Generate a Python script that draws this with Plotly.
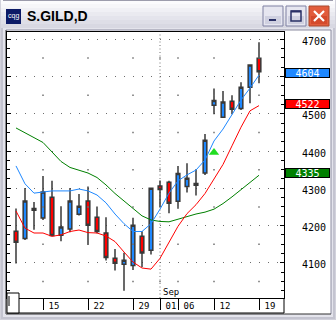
import plotly.graph_objects as go

# ---------------- data ----------------
symbol = "S.GILD,D"
dates = ["2011-08-10", "2011-08-11", "2011-08-12", "2011-08-15", "2011-08-16", "2011-08-17",
         "2011-08-18", "2011-08-19", "2011-08-22", "2011-08-23", "2011-08-24", "2011-08-25",
         "2011-08-26", "2011-08-29", "2011-08-30", "2011-08-31", "2011-09-01", "2011-09-02",
         "2011-09-06", "2011-09-07", "2011-09-08", "2011-09-09", "2011-09-12", "2011-09-13",
         "2011-09-14", "2011-09-15", "2011-09-16", "2011-09-19"]
open_ = [4185, 4165, 4246, 4220, 4276, 4174, 4191, 4230, 4266, 4222, 4180, 4112, 4096, 4093,
         4171, 4134, 4306, 4316, 4265, 4305, 4308, 4341, 4523, 4491, 4534, 4514, 4571, 4649]
high = [4246, 4301, 4263, 4333, 4320, 4252, 4301, 4285, 4305, 4251, 4222, 4137, 4127, 4221,
        4185, 4302, 4321, 4320, 4360, 4367, 4351, 4446, 4568, 4561, 4550, 4585, 4631, 4692]
low = [4098, 4161, 4189, 4215, 4172, 4158, 4182, 4227, 4148, 4179, 4106, 4079, 4025, 4081,
       4089, 4122, 4250, 4233, 4245, 4289, 4281, 4336, 4499, 4490, 4499, 4510, 4528, 4582]
close = [4155, 4266, 4241, 4290, 4173, 4196, 4266, 4252, 4201, 4184, 4114, 4099, 4107, 4201,
         4126, 4300, 4297, 4260, 4340, 4327, 4313, 4429, 4536, 4532, 4512, 4571, 4631, 4613]
ma_fast = [4360, 4312, 4287, 4290, 4293, 4293, 4293, 4298, 4293, 4282, 4261, 4231, 4205, 4184,
           4184, 4205, 4244, 4287, 4320, 4336, 4349, 4376, 4427, 4459, 4497, 4537, 4569, 4604]
ma_mid = [4239, 4193, 4180, 4180, 4171, 4175, 4184, 4188, 4181, 4180, 4172, 4157, 4129, 4102,
          4086, 4083, 4112, 4156, 4198, 4232, 4256, 4286, 4325, 4364, 4414, 4464, 4508, 4522]
ma_slow = [4462, 4448, 4436, 4423, 4396, 4372, 4356, 4348, 4341, 4329, 4309, 4286, 4266, 4244,
           4226, 4215, 4211, 4210, 4216, 4224, 4231, 4236, 4244, 4259, 4277, 4297, 4317, 4335]
signal_date = "2011-09-12"
signal_value = 4396
tick_dates = ["2011-08-15", "2011-08-22", "2011-08-29", "2011-09-01", "2011-09-06",
              "2011-09-12", "2011-09-19"]
tick_text = ["15", "22", "29", "01", "06", "12", "19"]
month_start = "2011-09-01"
month_label = "Sep"
y_ticks = [4100, 4200, 4300, 4400, 4500, 4600, 4700]
y_half = [4050, 4150, 4250, 4350, 4450, 4550, 4650]

# ---------------- styling ----------------
W, H = 336, 320
PL, PR, PT, PB = 7, 284, 32, 298
BLUE = "#1e88ff"
RED = "#ff0000"
GREEN = "#008000"
OUT = "#383838"
MONO = "DejaVu Sans Mono"

pos = list(range(len(dates)))
tick_pos = [dates.index(d) for d in tick_dates]
month_pos = dates.index(month_start)
sig_pos = dates.index(signal_date)
last_vals = [ma_fast[-1], ma_mid[-1], ma_slow[-1]]
# a price label hidden behind a value box is not shown (as on the reference)
y_text = ["" if any(abs(v - lv) < 15 for lv in last_vals) else str(v) for v in y_ticks]


def fx(x):
    return (x - PL) / (PR - PL)


def fy(y):
    return (PB - y) / (PB - PT)


shapes = []


def rect(x0, y0, x1, y1, fill=None, line=None, lw=1, layer="below"):
    shapes.append(dict(type="rect", xref="paper", yref="paper",
                       x0=fx(x0), x1=fx(x1), y0=fy(y1), y1=fy(y0),
                       fillcolor=fill if fill else "rgba(0,0,0,0)",
                       line=dict(color=line if line else "rgba(0,0,0,0)", width=lw if line else 0),
                       layer=layer))


def seg(x0, y0, x1, y1, color, lw=1, layer="above", dash=None):
    d = dict(color=color, width=lw)
    if dash:
        d["dash"] = dash
    shapes.append(dict(type="line", xref="paper", yref="paper",
                       x0=fx(x0), x1=fx(x1), y0=fy(y0), y1=fy(y1), line=d, layer=layer))


# window frame
rect(0, 0, 336, 320, fill="#d2d2dc")
rect(1, 28, 335, 319, fill="#c4c4d0")
rect(3, 28, 333, 317, fill="#e4e4ec")
# chart panel (white)
rect(6, 30, 331, 314, fill="#ffffff")
seg(6, 30, 331, 30, "#8c8ca0", 1, layer="below")
seg(331, 30, 331, 314, "#8c8ca0", 1, layer="below")
seg(6, 314, 331, 314, "#303030", 1, layer="below")
seg(6, 30, 6, 314, "#303030", 1, layer="below")
# title bar gradient
tb = ["#fbfbfd", "#f6f6f9", "#f0f0f5", "#eaeaf0", "#e4e4ec", "#dedee7", "#d8d8e2"]
for i, c in enumerate(tb):
    rect(1, i * 4, 335, i * 4 + 4, fill=c, layer="above")
seg(3, 0.5, 333, 0.5, "#9c9cac", 1)
# icon
rect(6, 9, 21, 24, fill="#0c1a66", layer="above")
# buttons
for bx in (263, 286):
    rect(bx, 6, bx + 20, 26, fill="#e6e6f0", line="#7e80a2", lw=1, layer="above")
    rect(bx + 2, 16, bx + 18, 24, fill="#cfd0e0", layer="above")
rect(269, 19, 276, 21, fill="#2a3066", layer="above")
rect(291, 11, 301, 21, line="#2a3066", lw=1.5, layer="above")
seg(291, 11.5, 301, 11.5, "#2a3066", 2)
rect(309, 6, 329, 26, fill="#e25c3c", line="#a8482e", lw=1, layer="above")
rect(311, 16, 327, 24, fill="#d44a2c", layer="above")
seg(314, 11, 324, 21, "#ffffff", 2.2)
seg(324, 11, 314, 21, "#ffffff", 2.2)
# bottom strip borders and scroll widget
seg(PR, PB, PR, 313, "#000000", 1)
seg(PL, 313, PR, 313, "#000000", 1)
rect(7, 293, 19, 313, fill="#ffffff", line="#000000", lw=1, layer="above")
seg(9, 296, 9, 306, "#000000", 1)
# month boundary dotted line
shapes.append(dict(type="line", xref="x", yref="paper", x0=month_pos, x1=month_pos, y0=0, y1=1,
                   line=dict(color="#707070", width=1, dash="1px,2.5px"), layer="below"))

fig = go.Figure()

# half-level grid dots at weekly ticks
gx, gy = [], []
for p in tick_pos:
    for v in y_half:
        gx.append(p)
        gy.append(v)
fig.add_trace(go.Scatter(x=gx, y=gy, mode="markers", hoverinfo="skip",
                         marker=dict(symbol="square", size=1.5, color="#707070", line=dict(width=0)),
                         showlegend=False))

for vals, col in ((ma_slow, GREEN), (ma_mid, RED), (ma_fast, BLUE)):
    fig.add_trace(go.Scatter(x=pos, y=vals, mode="lines", line=dict(color=col, width=1),
                             showlegend=False))

fig.add_trace(go.Candlestick(
    x=pos, open=open_, high=high, low=low, close=close, whiskerwidth=0,
    increasing=dict(fillcolor=BLUE, line=dict(color=OUT, width=1.5)),
    decreasing=dict(fillcolor=RED, line=dict(color=OUT, width=1.5)),
    showlegend=False))

fig.add_trace(go.Scatter(x=[sig_pos], y=[signal_value], mode="markers",
                         marker=dict(symbol="triangle-up", size=9, color="#22dd22", line=dict(width=0)),
                         showlegend=False))

annotations = [
    dict(text=f"<b>{symbol}</b>", xref="paper", yref="paper", x=fx(24.5), y=fy(16.5),
         xanchor="left", yanchor="middle", showarrow=False,
         font=dict(family="Liberation Sans", size=14, color="#000000")),
    dict(text="cqg", xref="paper", yref="paper", x=fx(13.5), y=fy(16.5),
         xanchor="center", yanchor="middle", showarrow=False,
         font=dict(family="Liberation Sans", size=7, color="#ffffff")),
    dict(text=month_label, xref="x", yref="paper", x=month_pos, y=0, xanchor="left",
         yanchor="bottom", xshift=1, yshift=-1, showarrow=False,
         font=dict(family=MONO, size=9, color="#000000")),
]
for v, col in zip(last_vals, (BLUE, RED, GREEN)):
    annotations.append(dict(text=str(v), xref="paper", yref="y", x=fx(307.5), y=v,
                            xanchor="center", yanchor="middle", showarrow=False, yshift=2,
                            width=43, height=8, bgcolor=col, bordercolor="#000000",
                            borderwidth=1, borderpad=0,
                            font=dict(family=MONO, size=10, color="#ffffff")))

fig.update_layout(
    width=W, height=H,
    margin=dict(l=PL, r=W - PR, t=PT, b=H - PB, pad=0),
    paper_bgcolor="#d2d2dc", plot_bgcolor="#ffffff",
    boxgap=0.42,
    shapes=shapes, annotations=annotations,
    showlegend=False,
    xaxis=dict(range=[-1, (PR - 16) / 9.0], showgrid=False, zeroline=False,
               rangeslider=dict(visible=False),
               tickmode="array", tickvals=tick_pos, ticktext=tick_text,
               ticks="outside", ticklen=11, tickcolor="#000000", tickwidth=1,
               ticklabelshift=11, ticklabelstandoff=-12,
               tickfont=dict(family=MONO, size=9, color="#000000"),
               showline=True, linecolor="#000000", linewidth=1, mirror=True, fixedrange=True),
    yaxis=dict(side="right", range=[4005.5, 4719.6], tickmode="array", tickvals=y_ticks,
               ticktext=y_text,
               ticks="inside", ticklen=4, tickcolor="#000000",
               minor=dict(dtick=25, tick0=0, ticks="inside", ticklen=3, tickcolor="#000000",
                          showgrid=False),
               showgrid=True, gridcolor="#6c6c6c", gridwidth=1, griddash="1px,8px",
               zeroline=False, showline=True, linecolor="#000000", linewidth=1,
               mirror="ticks", ticklabelstandoff=15, ticklabelshift=2,
               tickfont=dict(family=MONO, size=10, color="#000000"), fixedrange=True),
)

fig.write_html("out.html", config={"displayModeBar": False})
